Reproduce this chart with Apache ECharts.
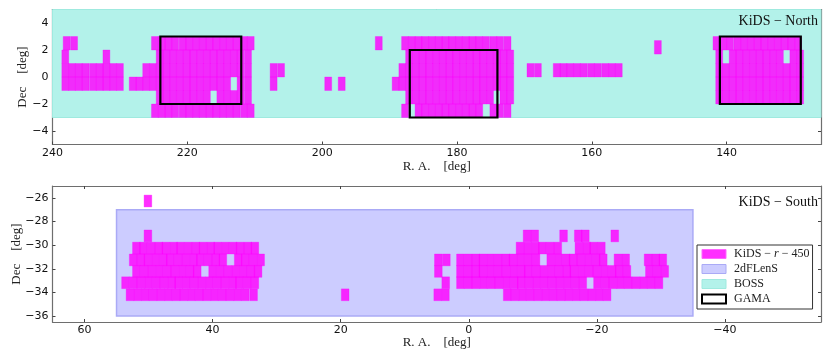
<!DOCTYPE html>
<html>
<head>
<meta charset="utf-8">
<style>
  html, body { margin: 0; padding: 0; background: #fff; }
  #main { width: 830px; height: 363px; }
</style>
<script src="https://cdn.jsdelivr.net/npm/echarts@6/dist/echarts.min.js"></script>
</head>
<body>
<div id="main"></div>
<script>
// tick labels
var northRaTicks = [240, 220, 200, 180, 160, 140]
var northDecTicks = [-4, -2, 0, 2, 4]
var southRaTicks = [60, 40, 20, 0, -20, -40]
var southDecTicks = [-36, -34, -32, -30, -28, -26]

// north tiles, R.A. of each tile centre, one list per Dec row
var northDec2p5 = [237.9, 236.8, 224.8, 223.8, 222.8, 221.8, 220.7, 219.7, 218.7, 217.7, 216.7, 215.7, 214.7, 213.7, 212.7, 211.6, 210.6, 191.6,
  187.7, 186.7, 185.7, 184.7, 183.7, 182.7, 181.7, 180.7, 179.7, 178.7, 177.7, 176.7, 175.7, 174.6, 173.6, 172.5,
  141.5, 140.5, 139.5, 138.4, 137.4, 136.4, 135.4, 134.4, 133.4, 132.4, 131.4, 130.4, 129.4]
var northDec2p2 = [150.2]
var northDec1p5 = [238.1, 232.0, 224.1, 223.1, 222.1, 221.1, 220.1, 219.1, 218.1, 217.1, 216.1, 215.1, 214.1, 213.1, 212.1, 211.0,
  187.1, 186.1, 185.1, 184.1, 183.1, 182.1, 181.1, 180.1, 179.1, 178.1, 177.1, 176.1, 175.1, 174.1, 173.1, 172.1,
  141.1, 139.1, 138.1, 137.1, 136.1, 135.1, 134.1, 133.1, 132.1, 130.1, 129.1]
var northDec0p5 = [238.1, 237.1, 236.1, 235.1, 234.0, 233.0, 232.0, 231.0, 230.0,
  226.1, 225.1, 224.1, 223.1, 222.1, 221.1, 220.1, 219.1, 218.1, 217.1, 216.1, 215.1, 214.1, 213.1, 212.1, 211.0, 207.2, 206.1,
  188.1, 187.1, 186.1, 185.1, 184.1, 183.1, 182.1, 181.1, 180.1, 179.1, 178.1, 177.1, 176.1, 175.1, 174.1, 173.1, 172.1, 169.1, 168.0,
  165.2, 164.2, 163.2, 162.2, 161.2, 160.1, 159.1, 158.0, 157.0, 156.0,
  141.1, 140.1, 139.1, 138.1, 137.1, 136.1, 135.1, 134.1, 133.1, 132.1, 131.1, 130.1, 129.1]
var northDecM0p5 = [238.1, 237.1, 236.1, 235.1, 234.0, 233.0, 232.0, 231.0, 230.0,
  228.1, 227.1, 226.1, 225.1, 224.1, 223.1, 222.1, 221.1, 220.1, 219.1, 218.1, 217.1, 216.1, 215.1, 214.1, 212.1, 211.0, 207.2, 199.1, 197.1,
  189.1, 188.1, 187.1, 186.1, 185.1, 184.1, 183.1, 182.1, 181.1, 180.1, 179.1, 178.1, 177.1, 176.1, 175.1, 174.1, 173.1, 172.1,
  141.1, 140.1, 139.1, 138.1, 137.1, 136.1, 135.1, 134.1, 133.1, 132.1, 131.1, 130.1, 129.1]
var northDecM1p5 = [224.1, 223.1, 222.1, 221.1, 220.1, 219.1, 218.1, 217.1, 215.1, 214.1, 213.1, 212.1, 211.0,
  187.1, 186.1, 185.1, 184.1, 183.1, 182.1, 181.1, 180.1, 179.1, 178.1, 177.1, 176.1, 175.1, 173.1, 172.1,
  141.1, 140.1, 139.1, 138.1, 137.1, 136.1, 135.1, 134.1, 133.1, 132.1, 131.1, 130.1, 129.1]
var northDecM2p5 = [224.8, 223.8, 222.8, 221.8, 220.7, 219.7, 218.7, 217.7, 216.7, 215.7, 214.7, 213.7, 212.7, 211.6, 210.6,
  187.7, 185.7, 184.7, 183.7, 182.7, 181.7, 180.7, 179.7, 178.7, 177.7, 176.7, 174.6, 173.6, 172.5]

// south tiles
var southDecM26 = [50.1]
var southDecM29 = [50.1, -9.1, -10.3, -14.8, -17.1, -18.2, -22.8]
var southDecM30 = [51.9, 50.8, 49.6, 48.4, 47.3, 46.1, 45.0, 43.8, 42.6, 41.5, 40.3, 39.2, 38.0, 36.8, 35.7, 34.5, 33.4,
  -8.0, -9.2, -10.4, -11.5, -12.7, -13.9, -17.2, -18.4, -19.5, -20.7]
var southDecM31 = [52.4, 51.2, 50.1, 48.9, 47.7, 46.6, 45.4, 44.2, 43.0, 41.9, 40.7, 39.5, 38.4, 36.0, 34.9, 33.7, 32.5, 4.75, 3.5,
  1.3, 0.1, -1.1, -2.2, -3.4, -4.6, -5.8, -6.9, -8.1, -9.3, -10.5, -12.8, -14.0, -15.2, -16.3, -17.5, -18.7, -19.9, -21.0,
  -23.3, -24.5, -28.0, -29.2, -30.3]
var southDecM32 = [51.9, 50.7, 49.5, 48.3, 47.1, 45.9, 44.7, 43.5, 42.4, 40.0, 38.8, 37.6, 36.4, 35.2, 34.0, 32.9, 4.75,
  1.3, 0.1, -1.1, -2.2, -3.4, -4.6, -5.8, -7.0, -8.2, -9.3, -10.5, -11.7, -12.9, -14.1, -15.3, -16.4, -17.6, -18.8, -20.0, -21.2, -22.4, -23.5, -24.7,
  -28.2, -29.4, -30.6]
var southDecM33 = [53.6, 52.4, 51.2, 50.0, 48.8, 47.6, 46.4, 45.3, 44.1, 42.9, 41.7, 40.5, 39.3, 38.1, 36.9, 35.8, 34.6, 33.4, 3.6,
  1.3, 0.1, -1.1, -2.3, -3.5, -4.7, -5.9, -7.1, -8.2, -9.4, -10.6, -11.8, -13.0, -14.2, -15.4, -16.6, -17.8, -20.1, -21.3, -22.5, -23.7, -24.9, -26.1, -27.3, -28.5, -29.7]
var southDecM34 = [52.9, 51.7, 50.5, 49.3, 48.1, 46.9, 45.7, 44.5, 43.3, 42.1, 40.9, 39.7, 38.5, 37.3, 36.1, 34.9, 33.6, 19.3, 4.85, 3.65,
  -6.0, -7.2, -8.4, -9.6, -10.8, -12.0, -13.2, -14.4, -15.6, -16.8, -18.0, -19.2, -20.4, -21.6]

// survey footprints: ra from, ra to, dec from, dec to
var bossNorth = [[240, 126, -3, 5]]
var gamaNorth = [[224, 212, -2, 3], [187, 174, -3, 2], [141, 129, -2, 3]]
var twodfSouth = [[55, -35, -36, -27]]

function row(ras, dec) {
  return ras.map(function (ra) { return [ra, dec] })
}
var northTiles = [].concat(
  row(northDec2p5, 2.5), row(northDec2p2, 2.2), row(northDec1p5, 1.5), row(northDec0p5, 0.5),
  row(northDecM0p5, -0.5), row(northDecM1p5, -1.5), row(northDecM2p5, -2.5))
var southTiles = [].concat(
  row(southDecM26, -26.27), row(southDecM29, -29.22), row(southDecM30, -30.25), row(southDecM31, -31.25),
  row(southDecM32, -32.22), row(southDecM33, -33.18), row(southDecM34, -34.2))

var tickFont = 'DejaVu Sans'
var serif = 'Liberation Serif'
var frame = '#6e6e6e'

function renderTile(w, h) {
  return function (params, api) {
    var p0 = api.coord([api.value(0) + w / 2, api.value(1) + h / 2])
    var p1 = api.coord([api.value(0) - w / 2, api.value(1) - h / 2])
    return {
      type: 'rect',
      shape: { x: p0[0], y: p0[1], width: p1[0] - p0[0], height: p1[1] - p0[1] },
      style: { fill: 'rgba(255,0,255,0.82)', stroke: 'rgba(255,0,255,0.3)', lineWidth: 1 }
    }
  }
}
function renderBox(style) {
  return function (params, api) {
    var p0 = api.coord([api.value(0), api.value(3)])
    var p1 = api.coord([api.value(1), api.value(2)])
    return {
      type: 'rect',
      shape: { x: p0[0], y: p0[1], width: p1[0] - p0[0], height: p1[1] - p0[1] },
      style: style
    }
  }
}
function minusLabel(v) {
  return String(v).replace('-', '\u2212')
}
function xAxes(grid, min, max, ticks, nameGap) {
  return [{
    type: 'value', gridIndex: grid, min: min, max: max, inverse: true, position: 'bottom',
    name: 'R. A.    [deg]', nameLocation: 'middle', nameGap: nameGap, nameMoveOverlap: false,
    nameTextStyle: { fontFamily: serif, fontSize: 13, color: '#222' },
    splitLine: { show: false },
    axisLine: { onZero: false, lineStyle: { color: frame, width: 1.2 } },
    axisTick: { inside: true, length: 3, customValues: ticks, lineStyle: { color: '#444' } },
    axisLabel: { customValues: ticks, formatter: minusLabel, margin: 3, fontFamily: tickFont, fontSize: 11, color: '#111' }
  }, {
    type: 'value', gridIndex: grid, min: min, max: max, inverse: true, position: 'top',
    splitLine: { show: false },
    axisLine: { onZero: false, lineStyle: { color: frame, width: 1.2 } },
    axisTick: { inside: true, length: 3, customValues: ticks, lineStyle: { color: '#444' } },
    axisLabel: { show: false }
  }]
}
function yAxes(grid, min, max, ticks, nameGap) {
  return [{
    type: 'value', gridIndex: grid, min: min, max: max, position: 'left',
    name: 'Dec    [deg]', nameLocation: 'middle', nameGap: nameGap, nameMoveOverlap: false,
    nameTextStyle: { fontFamily: serif, fontSize: 13, color: '#222' },
    splitLine: { show: false },
    axisLine: { onZero: false, lineStyle: { color: frame, width: 1.2 } },
    axisTick: { inside: true, length: 3, customValues: ticks, lineStyle: { color: '#444' } },
    axisLabel: { customValues: ticks, formatter: minusLabel, margin: 4, fontFamily: tickFont, fontSize: 11, color: '#111' }
  }, {
    type: 'value', gridIndex: grid, min: min, max: max, position: 'right',
    splitLine: { show: false },
    axisLine: { onZero: false, lineStyle: { color: frame, width: 1.2 } },
    axisTick: { inside: true, length: 3, customValues: ticks, lineStyle: { color: '#444' } },
    axisLabel: { show: false }
  }]
}

var bossStyle = { fill: '#b3f2ea', stroke: '#9feadf', lineWidth: 1 }
var twodfStyle = { fill: '#ccccff', stroke: '#aaaaf6', lineWidth: 1.5 }
var gamaStyle = { fill: 'none', stroke: '#000', lineWidth: 2.2 }

var myChart = echarts.init(document.getElementById('main'), null, { renderer: 'canvas' })
myChart.setOption({
  animation: false,
  backgroundColor: '#fff',
  grid: [
    { left: 52.5, right: 9, top: 9.5, height: 135, outerBoundsMode: 'none' },
    { left: 52.5, right: 9, top: 186, height: 136, outerBoundsMode: 'none' }
  ],
  title: [
    { text: 'KiDS \u2212 North', right: 12, top: 14, padding: 0, textStyle: { fontFamily: serif, fontSize: 14, fontWeight: 'normal', color: '#111' } },
    { text: 'KiDS \u2212 South', right: 12, top: 195, padding: 0, textStyle: { fontFamily: serif, fontSize: 14, fontWeight: 'normal', color: '#111' } }
  ],
  xAxis: xAxes(0, 126, 240, northRaTicks, 16).concat(xAxes(1, -55, 65, southRaTicks, 14)),
  yAxis: yAxes(0, -5, 5, northDecTicks, 23).concat(yAxes(1, -36.5, -25, southDecTicks, 29)),
  legend: {
    left: 697, top: 245, orient: 'vertical', width: 118, height: 71,
    padding: [3, 3, 4, 4], itemGap: 3, itemWidth: 24, itemHeight: 9,
    backgroundColor: '#fff', borderColor: '#333', borderWidth: 1, borderRadius: 0,
    selectedMode: false,
    data: [
      { name: 'KiDS-r-450', icon: 'rect', itemStyle: { color: 'rgba(255,0,255,0.82)', borderColor: '#ff66ff', borderWidth: 1 } },
      { name: '2dFLenS', icon: 'rect', itemStyle: { color: '#ccccff', borderColor: '#aaaaf6', borderWidth: 1 } },
      { name: 'BOSS', icon: 'rect', itemStyle: { color: '#b3f2ea', borderColor: '#9feadf', borderWidth: 1 } },
      { name: 'GAMA', icon: 'rect', itemStyle: { color: '#fff', borderColor: '#000', borderWidth: 2 } }
    ],
    formatter: function (name) {
      return name === 'KiDS-r-450' ? 'KiDS \u2212 {i|r} \u2212 450' : name
    },
    textStyle: {
      fontFamily: serif, fontSize: 12, color: '#222', padding: [0, 0, 0, 3],
      rich: { i: { fontFamily: serif, fontStyle: 'italic', fontSize: 12, color: '#222' } }
    }
  },
  series: [
    { name: 'BOSS', type: 'custom', xAxisIndex: 0, yAxisIndex: 0, z: 1, silent: true, renderItem: renderBox(bossStyle), data: bossNorth, encode: { x: [0, 1], y: [2, 3] } },
    { name: 'KiDS-r-450', type: 'custom', xAxisIndex: 0, yAxisIndex: 0, z: 2, silent: true, renderItem: renderTile(1.03, 1), data: northTiles, encode: { x: 0, y: 1 } },
    { name: 'GAMA', type: 'custom', xAxisIndex: 0, yAxisIndex: 0, z: 3, silent: true, renderItem: renderBox(gamaStyle), data: gamaNorth, encode: { x: [0, 1], y: [2, 3] } },
    { name: '2dFLenS', type: 'custom', xAxisIndex: 2, yAxisIndex: 2, z: 1, silent: true, renderItem: renderBox(twodfStyle), data: twodfSouth, encode: { x: [0, 1], y: [2, 3] } },
    { name: 'KiDS-r-450', type: 'custom', xAxisIndex: 2, yAxisIndex: 2, z: 2, silent: true, renderItem: renderTile(1.2, 1), data: southTiles, encode: { x: 0, y: 1 } }
  ]
})
</script>
</body>
</html>
